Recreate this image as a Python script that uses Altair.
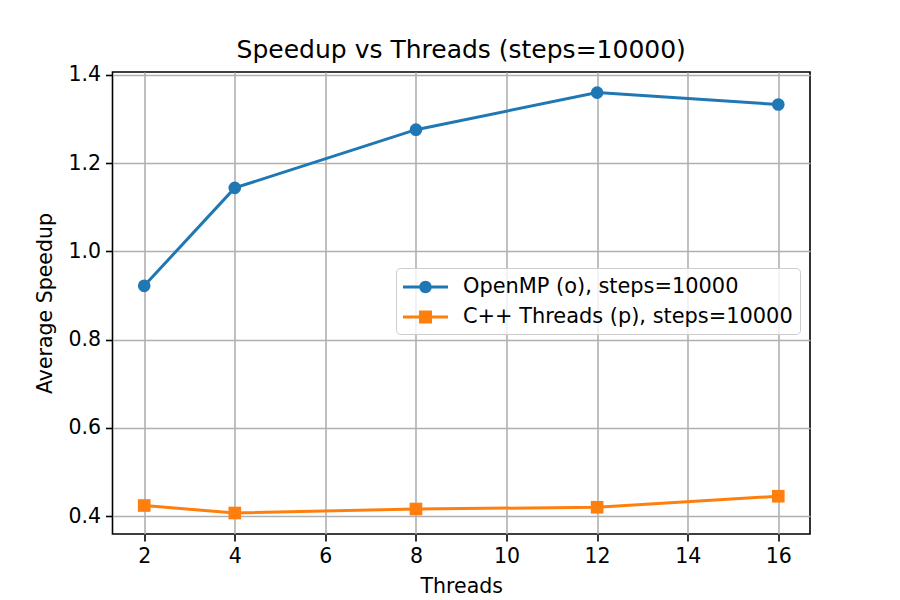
import altair as alt
import pandas as pd

threads = [2, 4, 8, 12, 16]
openmp = [0.922, 1.144, 1.276, 1.360, 1.333]
cpp = [0.424, 0.407, 0.416, 0.420, 0.445]
series_names = ["OpenMP (o), steps=10000", "C++ Threads (p), steps=10000"]
colors = ["#1f77b4", "#ff7f0e"]
x_ticks = [2, 4, 6, 8, 10, 12, 14, 16]
y_ticks = [0.4, 0.6, 0.8, 1.0, 1.2, 1.4]

rows = []
for t, v in zip(threads, openmp):
    rows.append({"Threads": t, "Speedup": v, "Series": series_names[0]})
for t, v in zip(threads, cpp):
    rows.append({"Threads": t, "Speedup": v, "Series": series_names[1]})
df = pd.DataFrame(rows)

FONT = "DejaVu Sans"

x_enc = alt.X("Threads:Q",
              scale=alt.Scale(domain=[1.3, 16.7], nice=False, zero=False),
              axis=alt.Axis(values=x_ticks, title="Threads", format="d"))
y_enc = alt.Y("Speedup:Q",
              scale=alt.Scale(domain=[0.3594, 1.4067], nice=False, zero=False),
              axis=alt.Axis(values=y_ticks, title="Average Speedup", format=".1f"))

lines = alt.Chart(df).mark_line(strokeWidth=3).encode(
    x=x_enc, y=y_enc,
    color=alt.Color("Series:N", scale=alt.Scale(domain=series_names, range=colors), legend=None),
)

points = alt.Chart(df).mark_point(filled=True, opacity=1, size=160).encode(
    x=x_enc, y=y_enc,
    color=alt.Color("Series:N", scale=alt.Scale(domain=series_names, range=colors), legend=None),
    shape=alt.Shape("Series:N", scale=alt.Scale(domain=series_names, range=["circle", "square"]), legend=None),
)

# legend symbols: unit = 12px (symbolSize 576); line from x=-1 to 2.75, marker at 0.875
circle_path = ("M-1,-0.13H2.75V0.13H-1Z "
               "M1.395,0A0.52,0.52,0,1,1,0.355,0A0.52,0.52,0,1,1,1.395,0Z")
square_path = ("M-1,-0.13H2.75V0.13H-1Z "
               "M0.335,-0.54H1.415V0.54H0.335Z")

leg = alt.Legend(title=None, orient="none", legendX=283.5, legendY=196,
                 symbolSize=576, symbolOpacity=1, symbolStrokeWidth=0,
                 labelFontSize=20.9, labelFont=FONT, labelColor="black",
                 labelOffset=36, rowPadding=8, labelLimit=600,
                 padding=7, fillColor="rgba(255,255,255,0.8)",
                 strokeColor="#cccccc", cornerRadius=4)

legend_layer = alt.Chart(df).mark_point(filled=True, opacity=0, size=10).encode(
    x=x_enc, y=y_enc,
    color=alt.Color("Series:N", scale=alt.Scale(domain=series_names, range=colors), legend=leg),
    shape=alt.Shape("Series:N", scale=alt.Scale(domain=series_names, range=[circle_path, square_path]),
                    legend=leg),
)

chart = alt.layer(lines, points, legend_layer).resolve_scale(
    color="independent", shape="independent"
).properties(
    width=697.5, height=462,
    title=alt.TitleParams("Speedup vs Threads (steps=10000)", fontSize=25, font=FONT,
                          fontWeight="normal", color="black", offset=2),
    autosize=alt.AutoSizeParams(type="none"),
    padding={"left": 104.5, "top": 64, "right": 80, "bottom": 66},
).configure_view(
    stroke="black", strokeWidth=1.6
).configure_axis(
    domain=False, grid=True, gridColor="#b0b0b0", gridWidth=1.6,
    ticks=True, tickColor="black", tickSize=7, tickWidth=1.6,
    labelFont=FONT, labelFontSize=20.5, labelColor="black", labelPadding=5,
    titleFont=FONT, titleFontSize=20.5, titleFontWeight="normal", titleColor="black",
).configure_axisX(titlePadding=10).configure_axisY(titlePadding=12)

chart.save("out.html", embed_options={"renderer": "svg", "actions": False})
